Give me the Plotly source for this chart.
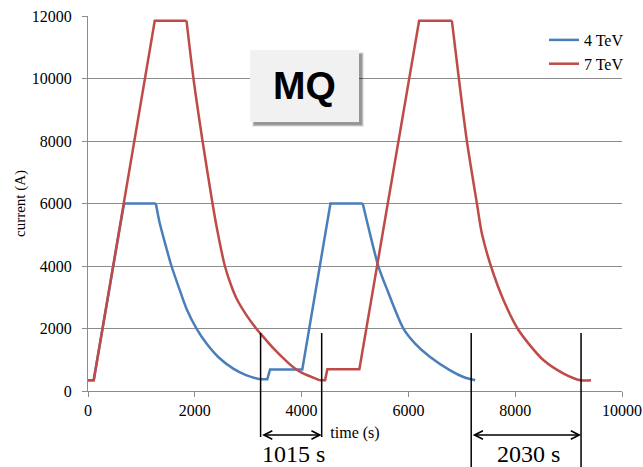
import plotly.graph_objects as go

# ---- data (time in s, current in A) ----
# 4 TeV cycle: linear ramps / flat tops and the two ramp-down (decay) parts
t_4tev_up1 = [0, 107, 675, 1270]
i_4tev_up1 = [342, 342, 6000, 6000]
t_4tev_down1 = [1270, 1345, 1470, 1563, 1720, 1857, 2032, 2220, 2438, 2719, 2970, 3219]
i_4tev_down1 = [6000, 5357, 4560, 4000, 3222, 2582, 1997, 1517, 1088, 717, 502, 374]
t_4tev_up2 = [3219, 3357, 3410, 4013, 4540, 5145]
i_4tev_up2 = [374, 374, 690, 690, 6000, 6000]
t_4tev_down2 = [5145, 5250, 5438, 5607, 5907, 6126, 6407, 6782, 7032, 7251]
i_4tev_down2 = [6000, 5248, 3990, 3222, 1997, 1517, 1088, 662, 448, 342]

# 7 TeV cycle
t_7tev_up1 = [0, 107, 1250, 1845]
i_7tev_up1 = [342, 342, 11850, 11850]
t_7tev_down1 = [1845, 1975, 2145, 2332, 2420, 2563, 2676, 2782, 2970, 3145, 3219, 3469,
                3750, 3876, 4000, 4345]
i_7tev_down1 = [11850, 10000, 8000, 6000, 5150, 4000, 3400, 2960, 2420, 2010, 1860, 1370,
                900, 720, 590, 342]
t_7tev_up2 = [4345, 4440, 4482, 5082, 6201, 6814]
i_7tev_up2 = [342, 342, 700, 700, 11850, 11850]
t_7tev_down2 = [6814, 6945, 7095, 7283, 7376, 7545, 7782, 8044, 8251, 8532, 8907, 9220, 9420]
i_7tev_down2 = [11850, 10000, 8000, 6000, 5037, 4000, 2902, 2000, 1517, 982, 557, 342, 342]

x_ticks = [0, 2000, 4000, 6000, 8000, 10000]
y_ticks = [0, 2000, 4000, 6000, 8000, 10000, 12000]

# interval markers (s) and their labels
interval_1 = (3232, 4376)
interval_2 = (7176, 9233)
interval_labels = ["1015 s", "2030 s"]

# ---- geometry ----
W_FIG, H_FIG = 643, 467
L, T, R, B = 88, 16, 21, 76
W = W_FIG - L - R
H = H_FIG - T - B


def px_x(px):
    return (px - L) / W


def px_y(py):
    return (T + H - py) / H


BLUE = "#4a7ebb"
RED = "#be4b48"
GRID = "#8c8c8c"
SERIF = "Liberation Serif, Times New Roman, serif"

fig = go.Figure()
series = [
    ("4 TeV", BLUE, [(t_4tev_up1, i_4tev_up1, "linear"), (t_4tev_down1, i_4tev_down1, "spline"),
                     (t_4tev_up2, i_4tev_up2, "linear"), (t_4tev_down2, i_4tev_down2, "spline")]),
    ("7 TeV", RED, [(t_7tev_up1, i_7tev_up1, "linear"), (t_7tev_down1, i_7tev_down1, "spline"),
                    (t_7tev_up2, i_7tev_up2, "linear"), (t_7tev_down2, i_7tev_down2, "spline")]),
]
for name, color, parts in series:
    for k, (tt, ii, shp) in enumerate(parts):
        fig.add_trace(go.Scatter(x=tt, y=ii, mode="lines", name=name,
                                 line=dict(color=color, width=2.5, shape=shp, smoothing=0.8),
                                 legendgroup=name, showlegend=(k == 0)))

shapes = []
# MQ box shadow (soft, offset down-right)
bx0, bx1, by0, by1 = 250, 359, 50, 122
for k, op in [(6, 0.05), (5, 0.07), (4, 0.09), (3, 0.12), (2, 0.15)]:
    shapes.append(dict(type="rect", xref="paper", yref="paper",
                       x0=px_x(bx0 + 5 - k / 2), x1=px_x(bx1 + 2 + k / 2),
                       y0=px_y(by1 + 2 + k / 2), y1=px_y(by0 + 5 - k / 2),
                       fillcolor="black", opacity=op, line=dict(width=0), layer="above"))
shapes.append(dict(type="rect", xref="paper", yref="paper",
                   x0=px_x(bx0), x1=px_x(bx1), y0=px_y(by1), y1=px_y(by0),
                   fillcolor="#f1f1f1", line=dict(width=0), layer="above"))

# interval lines
top_y = px_y(333)
for (ta, tb), bottom in [(interval_1, px_y(437)), (interval_2, px_y(467))]:
    for t in (ta, tb):
        shapes.append(dict(type="line", xref="x domain", yref="paper",
                           x0=t / 10000, x1=t / 10000, y0=top_y, y1=bottom,
                           line=dict(color="black", width=1.5), layer="above"))

annotations = [
    dict(text="<b>MQ</b>", xref="paper", yref="paper", x=px_x(304), y=px_y(86),
         showarrow=False, font=dict(family="Liberation Sans, Arial, sans-serif", size=39, color="black"),
         xanchor="center", yanchor="middle"),
]
arrow_y = px_y(435)
for (ta, tb), lab in [(interval_1, interval_labels[0]), (interval_2, interval_labels[1])]:
    annotations.append(dict(x=tb, y=arrow_y, xref="x", yref="paper",
                            ax=ta, ay=0, axref="x", ayref="pixel",
                            showarrow=True, arrowhead=5, arrowside="end+start",
                            arrowsize=1.1, arrowwidth=1.5, arrowcolor="black", text=""))
    annotations.append(dict(x=(ta + tb) / 2 + 50, y=px_y(468), xref="x", yref="paper",
                            text=lab, showarrow=False, borderpad=0,
                            font=dict(family=SERIF, size=24, color="black"),
                            xanchor="center", yanchor="bottom"))

fig.update_layout(
    width=W_FIG, height=H_FIG,
    margin=dict(l=L, r=R, t=T, b=B, pad=0, autoexpand=False),
    paper_bgcolor="white", plot_bgcolor="white",
    showlegend=True,
    legend=dict(x=px_x(544), y=px_y(23), xanchor="left", yanchor="top",
                bgcolor="rgba(0,0,0,0)", font=dict(family=SERIF, size=16, color="black"),
                traceorder="normal", tracegroupgap=0, itemwidth=30),
    shapes=shapes,
    annotations=annotations,
    font=dict(family=SERIF, size=16, color="black"),
)
fig.update_xaxes(range=[0, 10000], tickvals=x_ticks, ticktext=[str(v) for v in x_ticks],
                 automargin=False,
                 showgrid=False, zeroline=False, showline=True, linecolor=GRID, linewidth=1,
                 ticks="outside", ticklen=5, tickcolor=GRID,
                 tickfont=dict(family=SERIF, size=16, color="black"),
                 title=dict(text="time (s)", standoff=8, font=dict(family=SERIF, size=16, color="black")))
fig.update_yaxes(range=[0, 12000], tickvals=y_ticks, ticktext=[str(v) for v in y_ticks],
                 automargin=False,
                 showgrid=True, gridcolor=GRID, gridwidth=1, zeroline=False,
                 showline=True, linecolor=GRID, linewidth=1,
                 ticks="outside", ticklen=5, tickcolor=GRID, ticklabelstandoff=7,
                 tickfont=dict(family=SERIF, size=16, color="black"),
                 title=dict(text="current (A)", standoff=2, font=dict(family=SERIF, size=15, color="black")))

fig.write_html("out.html", config={"displayModeBar": False},
               post_script="document.body.style.margin='0px';document.body.style.padding='0px';")
